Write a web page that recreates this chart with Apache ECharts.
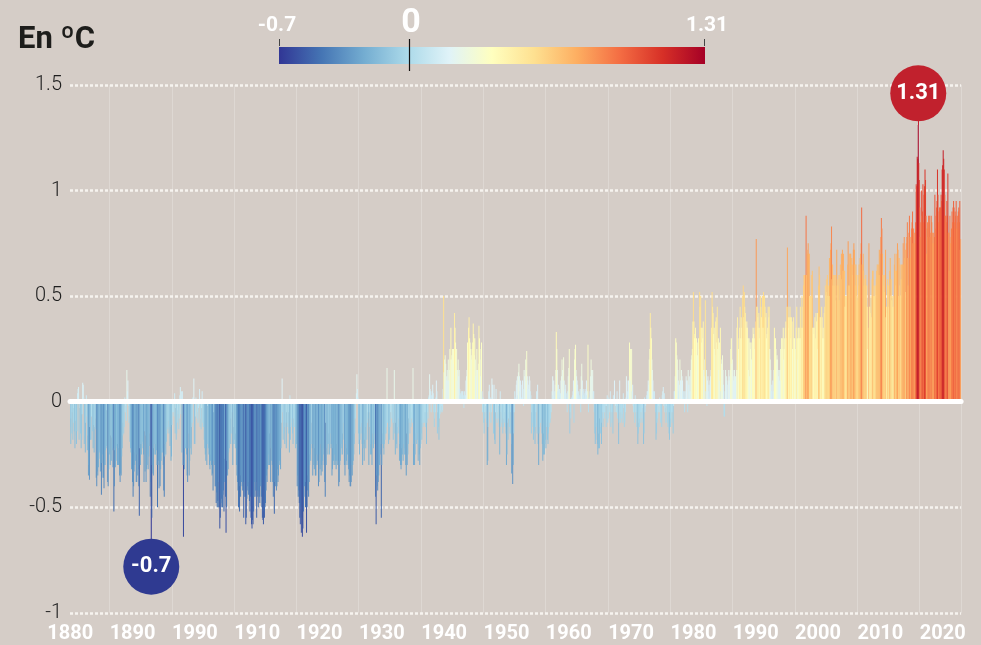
<!DOCTYPE html>
<html>
<head>
<meta charset="utf-8">
<script src="https://cdn.jsdelivr.net/npm/echarts@6/dist/echarts.min.js"></script>
<style>
html,body{margin:0;padding:0;background:#d5cdc7;}
#chart{width:981px;height:645px;}
</style>
</head>
<body>
<div id="chart"></div>
<script>
// Monthly anomalies (°C), Jan..Dec of each year, one array per decade
const d1880 = [
-0.12,-0.2,-0.08,-0.15,-0.05,-0.18,-0.1,-0.03,-0.14,-0.22,-0.09,-0.16,
-0.2,-0.14,0.04,0.06,0.07,-0.18,0.01,-0.03,-0.15,-0.22,-0.18,-0.06,
0.09,0.08,0.02,-0.2,-0.16,-0.24,-0.1,0.03,-0.07,-0.23,-0.16,-0.35,
-0.3,-0.37,-0.12,-0.18,-0.18,-0.07,-0.07,-0.14,-0.22,-0.11,-0.24,-0.12,
-0.13,-0.08,-0.36,-0.4,-0.33,-0.35,-0.31,-0.27,-0.23,-0.24,-0.33,-0.31,
-0.44,-0.29,-0.25,-0.36,-0.36,-0.41,-0.3,-0.3,-0.23,-0.22,-0.21,-0.04,
-0.38,-0.4,-0.32,-0.24,-0.25,-0.3,-0.16,-0.28,-0.17,-0.23,-0.31,-0.22,
-0.52,-0.4,-0.23,-0.31,-0.28,-0.21,-0.22,-0.3,-0.2,-0.3,-0.22,-0.35,
-0.38,-0.34,-0.35,-0.26,-0.22,-0.16,-0.1,-0.15,-0.12,0.02,-0.05,-0.02,
-0.09,0.15,0.05,0.1,-0.02,-0.1,-0.07,-0.19,-0.22,-0.24,-0.32,-0.3
];
const d1890 = [
-0.38,-0.45,-0.4,-0.33,-0.3,-0.24,-0.28,-0.38,-0.38,-0.25,-0.35,-0.32,
-0.4,-0.54,-0.22,-0.3,-0.2,-0.25,-0.2,-0.19,-0.22,-0.25,-0.38,-0.14,
-0.33,-0.16,-0.38,-0.32,-0.3,-0.25,-0.32,-0.26,-0.21,-0.15,-0.45,-0.38,
-0.7,-0.55,-0.3,-0.34,-0.35,-0.22,-0.2,-0.25,-0.25,-0.2,-0.23,-0.3,
-0.5,-0.3,-0.28,-0.41,-0.3,-0.4,-0.32,-0.28,-0.24,-0.22,-0.24,-0.3,
-0.42,-0.45,-0.26,-0.2,-0.25,-0.19,-0.15,-0.12,-0.13,-0.09,-0.15,-0.12,
-0.21,-0.12,-0.28,-0.26,-0.11,-0.05,0.0,-0.05,-0.07,0.04,-0.15,-0.03,
-0.18,-0.15,-0.1,-0.04,-0.06,-0.13,-0.08,0.03,0.07,-0.06,0.05,-0.24,
0.05,-0.3,-0.64,-0.3,-0.32,-0.22,-0.22,-0.2,-0.25,-0.35,-0.38,-0.22,
-0.15,-0.35,-0.28,-0.22,-0.2,-0.25,-0.12,-0.1,0.02,-0.01,0.11,-0.2
];
const d1900 = [
-0.2,-0.07,0.02,0.0,-0.08,-0.05,-0.1,-0.03,-0.02,0.06,-0.12,-0.08,
-0.13,-0.03,0.05,-0.1,-0.12,-0.12,-0.18,-0.22,-0.25,-0.28,-0.22,-0.3,
-0.2,-0.02,-0.22,-0.25,-0.3,-0.32,-0.28,-0.25,-0.3,-0.35,-0.34,-0.42,
-0.28,-0.05,-0.3,-0.4,-0.4,-0.48,-0.43,-0.5,-0.47,-0.5,-0.38,-0.5,
-0.6,-0.55,-0.48,-0.46,-0.5,-0.5,-0.44,-0.42,-0.52,-0.38,-0.27,-0.45,
-0.62,-0.5,-0.28,-0.35,-0.32,-0.24,-0.22,-0.18,-0.15,-0.2,-0.08,-0.15,
-0.05,-0.3,-0.2,-0.12,-0.18,-0.2,-0.22,-0.15,-0.3,-0.35,-0.38,-0.42,
-0.5,-0.48,-0.52,-0.4,-0.45,-0.35,-0.38,-0.4,-0.42,-0.38,-0.55,-0.45,
-0.38,-0.45,-0.58,-0.55,-0.46,-0.4,-0.42,-0.44,-0.38,-0.47,-0.52,-0.45,
-0.55,-0.58,-0.6,-0.56,-0.58,-0.52,-0.45,-0.38,-0.45,-0.42,-0.38,-0.55
];
const d1910 = [
-0.42,-0.45,-0.5,-0.42,-0.45,-0.48,-0.4,-0.38,-0.45,-0.5,-0.55,-0.56,
-0.58,-0.52,-0.55,-0.5,-0.48,-0.42,-0.35,-0.38,-0.32,-0.3,-0.25,-0.3,
-0.3,-0.15,-0.38,-0.22,-0.28,-0.3,-0.38,-0.45,-0.4,-0.53,-0.38,-0.4,
-0.38,-0.42,-0.4,-0.32,-0.38,-0.35,-0.3,-0.28,-0.3,-0.32,-0.22,-0.1,
0.11,-0.05,-0.18,-0.15,-0.1,-0.2,-0.12,-0.1,-0.22,-0.05,-0.1,-0.12,
-0.15,-0.05,-0.24,0.03,-0.18,-0.12,-0.08,-0.1,-0.15,-0.2,-0.08,-0.12,
-0.12,-0.1,-0.22,-0.18,-0.2,-0.4,-0.35,-0.45,-0.42,-0.48,-0.55,-0.58,
-0.5,-0.62,-0.55,-0.64,-0.6,-0.52,-0.45,-0.4,-0.38,-0.5,-0.38,-0.62,
-0.5,-0.42,-0.35,-0.45,-0.38,-0.3,-0.25,-0.28,-0.2,-0.1,-0.22,-0.35,
-0.2,-0.3,-0.32,-0.22,-0.35,-0.35,-0.25,-0.3,-0.28,-0.25,-0.4,-0.38
];
const d1920 = [
-0.25,-0.32,-0.2,-0.35,-0.3,-0.33,-0.28,-0.25,-0.22,-0.3,-0.38,-0.45,
-0.1,-0.3,-0.22,-0.2,-0.25,-0.2,-0.15,-0.25,-0.2,-0.15,-0.22,-0.2,
-0.35,-0.32,-0.22,-0.28,-0.3,-0.25,-0.3,-0.28,-0.32,-0.28,-0.2,-0.3,
-0.28,-0.4,-0.38,-0.3,-0.28,-0.25,-0.2,-0.22,-0.25,-0.15,-0.1,-0.18,
-0.3,-0.35,-0.2,-0.3,-0.28,-0.22,-0.25,-0.3,-0.32,-0.38,-0.35,-0.4,
-0.4,-0.38,-0.3,-0.35,-0.3,-0.28,-0.25,-0.2,-0.15,-0.08,0.0,0.04,
0.13,0.06,0.02,-0.15,-0.2,-0.25,-0.18,-0.12,-0.15,-0.1,-0.2,-0.3,
-0.22,-0.2,-0.28,-0.18,-0.15,-0.22,-0.12,-0.18,-0.1,-0.05,-0.08,-0.3,
-0.05,-0.12,-0.25,-0.2,-0.25,-0.3,-0.15,-0.2,-0.22,-0.18,-0.15,-0.2,
-0.45,-0.58,-0.35,-0.4,-0.42,-0.38,-0.35,-0.3,-0.3,-0.25,-0.2,-0.55
];
const d1930 = [
-0.3,-0.2,-0.15,-0.22,-0.25,-0.2,-0.18,-0.15,-0.15,-0.12,0.16,-0.1,
-0.1,-0.2,-0.15,-0.18,-0.12,-0.05,-0.02,-0.08,-0.05,-0.1,-0.18,-0.1,
0.15,-0.15,-0.25,-0.1,-0.2,-0.22,-0.15,-0.12,-0.08,-0.15,-0.28,-0.2,
-0.3,-0.32,-0.3,-0.22,-0.25,-0.28,-0.2,-0.22,-0.25,-0.25,-0.3,-0.35,
-0.15,-0.3,-0.25,-0.2,-0.08,-0.1,-0.15,-0.1,-0.12,-0.08,-0.05,-0.1,
0.16,-0.3,-0.2,-0.3,-0.25,-0.18,-0.15,-0.2,-0.18,-0.15,-0.28,-0.2,
-0.25,-0.3,-0.22,-0.2,-0.15,-0.18,-0.1,-0.12,-0.1,-0.08,-0.1,-0.05,
-0.12,-0.05,-0.2,-0.1,-0.05,-0.08,0.02,0.03,0.13,0.06,0.05,-0.05,
0.03,0.05,0.08,0.04,-0.05,-0.12,-0.08,-0.05,0.02,0.1,0.05,-0.15,
-0.05,-0.12,-0.18,-0.08,-0.06,-0.04,-0.05,-0.02,-0.05,-0.04,0.06,0.5
];
const d1940 = [
0.14,0.2,0.22,0.18,0.1,0.12,0.15,0.1,0.2,0.1,0.15,0.25,
0.2,0.35,0.2,0.22,0.25,0.2,0.25,0.18,0.42,0.35,0.28,0.15,
0.25,0.1,0.15,0.2,0.12,0.15,0.06,0.03,0.04,0.05,0.02,0.05,
0.05,0.03,-0.03,0.05,0.02,0.03,0.1,0.12,0.15,0.28,0.2,0.35,
0.4,0.3,0.28,0.25,0.22,0.2,0.25,0.28,0.37,0.32,0.22,0.3,
0.2,0.12,0.15,0.25,0.15,0.1,0.18,0.36,0.3,0.25,0.12,0.2,
0.28,0.05,-0.05,0.02,-0.1,-0.15,-0.05,-0.08,-0.02,-0.05,-0.1,-0.3,
-0.28,-0.12,0.05,0.08,-0.05,0.02,-0.1,-0.05,0.11,0.08,0.0,-0.15,
0.08,-0.18,-0.2,-0.05,0.06,-0.08,-0.1,-0.05,-0.08,-0.02,-0.12,-0.25,
0.05,-0.12,-0.05,-0.1,-0.08,-0.15,-0.12,-0.08,-0.1,-0.05,-0.12,-0.15
];
const d1950 = [
-0.3,-0.25,-0.1,-0.18,-0.08,-0.05,-0.12,-0.15,-0.05,-0.15,-0.34,-0.2,
-0.39,-0.3,-0.15,-0.05,0.05,0.0,0.02,0.08,0.1,0.12,0.03,0.14,
0.18,0.12,0.05,0.1,0.0,0.02,0.08,0.1,0.06,-0.02,0.15,0.12,
0.1,0.2,0.15,0.24,0.12,0.1,0.06,0.08,0.12,0.1,0.05,0.03,
-0.15,-0.05,-0.1,-0.12,-0.18,-0.15,-0.14,-0.2,-0.12,-0.05,0.05,-0.15,
0.08,-0.2,-0.3,-0.15,-0.12,-0.1,-0.1,-0.08,-0.15,-0.2,-0.28,-0.25,
-0.15,-0.25,-0.2,-0.18,-0.22,-0.12,-0.1,-0.18,-0.2,-0.15,-0.12,-0.1,
-0.1,-0.08,-0.05,0.0,0.05,0.12,0.03,0.1,0.05,0.02,0.08,0.15,
0.33,0.25,0.15,0.05,0.08,0.05,0.06,0.02,0.04,0.1,0.12,0.2,
0.15,0.1,0.21,0.1,0.05,0.06,0.08,0.04,0.02,-0.05,0.05,0.12
];
const d1960 = [
0.16,0.25,-0.15,-0.05,-0.08,0.02,0.0,0.03,0.05,0.1,-0.1,0.2,
0.25,0.27,0.15,0.12,0.1,0.08,0.04,0.05,0.03,0.02,0.06,-0.05,
0.12,0.18,0.1,0.05,0.03,0.06,0.02,0.04,0.05,0.06,0.1,0.03,
0.05,0.27,-0.05,0.02,0.0,0.05,0.12,0.2,0.15,0.12,0.15,0.05,
0.05,-0.05,-0.15,-0.2,-0.18,-0.12,-0.1,-0.2,-0.25,-0.22,-0.15,-0.22,
-0.08,-0.15,-0.12,-0.2,-0.1,-0.05,-0.12,-0.08,-0.05,-0.05,-0.08,-0.02,
-0.12,-0.02,0.03,-0.1,-0.08,0.02,0.0,-0.05,0.05,-0.12,-0.05,-0.1,
-0.05,-0.15,0.03,0.02,0.1,-0.05,-0.02,0.0,-0.05,0.05,-0.08,-0.02,
-0.2,-0.1,0.1,-0.05,-0.1,-0.05,-0.08,-0.06,-0.1,0.04,-0.03,-0.12,
-0.1,-0.05,0.02,0.12,0.1,0.05,0.03,0.1,0.08,0.28,0.12,0.25
];
const d1970 = [
0.1,0.25,0.05,0.08,-0.02,-0.05,-0.05,-0.1,0.03,-0.05,-0.08,-0.12,
-0.05,-0.2,-0.15,-0.1,-0.12,-0.08,-0.05,-0.1,-0.05,-0.08,-0.03,-0.1,
-0.2,-0.15,0.02,-0.05,-0.02,0.0,0.03,0.05,0.05,0.1,0.08,0.2,
0.25,0.42,0.35,0.3,0.2,0.15,0.1,0.05,0.02,0.05,0.0,-0.05,
-0.18,-0.15,-0.1,-0.08,-0.05,-0.02,-0.05,0.02,-0.05,-0.1,-0.08,-0.12,
0.03,0.05,0.07,-0.02,0.04,-0.05,-0.03,-0.1,-0.02,-0.05,-0.1,-0.12,
-0.05,-0.15,-0.18,-0.05,-0.12,-0.08,-0.05,-0.1,-0.05,-0.15,-0.02,0.05,
0.05,0.12,0.3,0.28,0.22,0.2,0.15,0.1,0.05,0.08,0.2,0.1,
0.1,0.15,0.12,0.1,0.05,0.02,0.05,-0.05,0.05,0.02,0.12,0.1,
0.1,-0.05,0.15,0.08,0.05,0.12,0.05,0.15,0.2,0.22,0.25,0.38
];
const d1980 = [
0.52,0.38,0.3,0.32,0.35,0.22,0.3,0.28,0.22,0.2,0.3,0.25,
0.52,0.45,0.5,0.35,0.28,0.35,0.3,0.38,0.15,0.12,0.2,0.48,
0.05,0.15,-0.02,0.1,0.12,0.05,0.08,0.02,0.1,0.12,0.15,0.35,
0.52,0.45,0.42,0.32,0.35,0.25,0.22,0.38,0.4,0.28,0.45,0.25,
0.3,0.15,0.28,0.1,0.35,0.05,0.18,0.2,0.22,0.15,0.08,-0.07,
-0.07,0.05,0.15,0.1,0.12,0.08,0.02,0.1,0.15,0.12,0.1,0.15,
0.25,0.3,0.18,0.2,0.15,0.1,0.12,0.15,0.1,0.12,0.1,0.15,
0.35,0.4,0.15,0.25,0.3,0.35,0.45,0.3,0.4,0.35,0.3,0.5,
0.55,0.4,0.52,0.45,0.42,0.38,0.35,0.38,0.35,0.3,0.15,0.3,
0.12,0.28,0.25,0.28,0.2,0.2,0.3,0.35,0.32,0.3,0.25,0.35
];
const d1990 = [
0.38,0.77,0.45,0.45,0.4,0.35,0.42,0.3,0.35,0.5,0.45,0.4,
0.4,0.5,0.35,0.52,0.35,0.5,0.45,0.4,0.42,0.3,0.32,0.35,
0.45,0.4,0.45,0.25,0.2,0.15,0.05,0.08,0.0,0.1,0.05,0.15,
0.35,0.3,0.3,0.25,0.2,0.22,0.2,0.15,0.12,0.15,0.1,0.15,
0.25,0.1,0.3,0.3,0.25,0.35,0.2,0.25,0.3,0.35,0.38,0.3,
0.45,0.73,0.45,0.4,0.35,0.4,0.45,0.4,0.3,0.4,0.38,0.25,
0.25,0.4,0.3,0.3,0.2,0.25,0.35,0.45,0.3,0.2,0.35,0.3,
0.3,0.35,0.45,0.3,0.35,0.5,0.35,0.45,0.55,0.6,0.6,0.6,
0.6,0.88,0.6,0.72,0.7,0.75,0.7,0.7,0.5,0.5,0.5,0.6,
0.5,0.62,0.35,0.35,0.32,0.35,0.4,0.3,0.42,0.38,0.38,0.42
];
const d2000 = [
0.25,0.55,0.64,0.6,0.4,0.4,0.35,0.45,0.4,0.3,0.35,0.3,
0.42,0.45,0.55,0.5,0.58,0.52,0.6,0.5,0.55,0.5,0.68,0.5,
0.72,0.75,0.83,0.58,0.65,0.55,0.6,0.55,0.6,0.55,0.6,0.48,
0.72,0.55,0.58,0.55,0.6,0.48,0.6,0.65,0.6,0.7,0.58,0.72,
0.62,0.7,0.62,0.62,0.45,0.5,0.45,0.5,0.55,0.65,0.76,0.55,
0.7,0.55,0.7,0.7,0.65,0.68,0.65,0.6,0.72,0.75,0.72,0.65,
0.55,0.65,0.6,0.5,0.48,0.6,0.55,0.65,0.6,0.68,0.7,0.75,
0.92,0.65,0.65,0.7,0.62,0.55,0.58,0.58,0.6,0.55,0.55,0.45,
0.25,0.35,0.75,0.45,0.45,0.42,0.5,0.4,0.58,0.62,0.62,0.5,
0.55,0.5,0.5,0.55,0.58,0.62,0.65,0.62,0.65,0.6,0.72,0.6
];
const d2010 = [
0.7,0.78,0.87,0.82,0.7,0.6,0.55,0.6,0.52,0.6,0.72,0.4,
0.45,0.42,0.58,0.55,0.45,0.55,0.62,0.68,0.5,0.58,0.48,0.5,
0.45,0.45,0.5,0.65,0.7,0.62,0.55,0.62,0.7,0.75,0.72,0.5,
0.68,0.55,0.65,0.5,0.58,0.65,0.58,0.65,0.75,0.65,0.78,0.68,
0.72,0.52,0.75,0.78,0.85,0.68,0.55,0.8,0.88,0.78,0.68,0.78,
0.82,0.85,0.9,0.75,0.82,0.8,0.75,0.8,0.85,1.03,1.02,1.16,
1.15,1.31,1.13,1.05,0.92,0.78,0.85,1.0,0.88,0.9,1.03,0.85,
0.98,1.02,1.1,1.05,0.88,0.7,0.82,0.85,0.78,0.88,0.85,0.88,
0.78,0.8,0.88,0.85,0.8,0.75,0.8,0.75,0.78,0.98,0.82,0.88,
0.92,0.95,1.1,0.98,0.85,0.9,0.92,0.92,0.92,0.98,0.95,1.1
];
const d2020 = [
1.12,1.19,1.15,1.1,0.98,0.88,0.88,0.85,0.95,0.88,1.08,0.8,
0.8,0.62,0.88,0.75,0.78,0.82,0.9,0.85,0.92,0.95,0.92,0.85,
0.9,0.88,0.95,0.82,0.85,0.88,0.9,0.92,0.85,0.95,0.72,0.77
];

const firstYear = 1880;
const lastYear = 2022;
const xTickYears = [1880,1890,1900,1910,1920,1930,1940,1950,1960,1970,1980,1990,2000,2010,2020];
const xTickTexts = ['1880','1890','1990','1910','1920','1930','1940','1950','1960','1970','1980','1990','2000','2010','2020'];
const yTicks = [-1,-0.5,0,0.5,1,1.5];
const scaleMin = -0.7, scaleMax = 1.31;
const minLabel = {month:'1893-01', text:'-0.7'};
const maxLabel = {month:'2016-02', text:'1.31'};

const values = [].concat(d1880,d1890,d1900,d1910,d1920,d1930,d1940,d1950,d1960,d1970,d1980,d1990,d2000,d2010,d2020);
const categories = [];
for (let y = firstYear; y <= lastYear; y++) {
  for (let m = 1; m <= 12; m++) categories.push(y + '-' + (m < 10 ? '0' : '') + m);
}

const palette = ['#313695','#4575b4','#74add1','#abd9e9','#e0f3f8','#ffffbf','#fee090','#fdae61','#f46d43','#d73027','#a50026'];
const FONT = 'Roboto, "Open Sans", "DejaVu Sans", sans-serif';

const chart = echarts.init(document.getElementById('chart'), null, {renderer:'canvas'});
const stops = palette.map((c, i) => ({offset: i / (palette.length - 1), color: c}));

chart.setOption({
  backgroundColor: '#d5cdc7',
  animation: false,
  grid: {left: 70, top: 84.9, width: 891.1, height: 528, containLabel: false},
  visualMap: {
    type: 'continuous', show: false, seriesIndex: 0,
    min: scaleMin, max: scaleMax,
    inRange: {color: palette}
  },
  xAxis: {
    type: 'category',
    data: categories,
    boundaryGap: true,
    axisLine: {show: false, onZero: false},
    axisTick: {show: false},
    axisLabel: {
      interval: (idx) => idx % 120 === 0,
      formatter: (v) => xTickTexts[xTickYears.indexOf(+v.slice(0, 4))],
      color: '#ffffff', fontSize: 20, fontWeight: 'bold', fontFamily: FONT, margin: 11
    },
    splitLine: {
      show: true,
      interval: (idx) => idx % 120 === 76,
      lineStyle: {color: 'rgba(255,255,255,0.22)', width: 1}
    }
  },
  yAxis: {
    type: 'value',
    min: yTicks[0], max: yTicks[yTicks.length - 1], interval: 0.5,
    axisLine: {show: false}, axisTick: {show: false},
    axisLabel: {color: '#1e1e1e', fontSize: 20, fontWeight: 300, fontFamily: FONT, margin: 8},
    splitLine: {lineStyle: {color: '#f6f3ef', width: 2.5, type: [3, 2]}}
  },
  series: [{
    type: 'bar',
    data: values,
    barCategoryGap: '0%',
    barGap: '0%',
    large: false,
    itemStyle: {borderWidth: 0},
    emphasis: {disabled: true},
    markLine: {
      silent: true,
      symbol: ['none', 'none'],
      label: {show: false},
      data: [
        {yAxis: 0, lineStyle: {color: '#ffffff', width: 5, type: 'solid', cap: 'round'}},
        [{coord: [maxLabel.month, 1.31], lineStyle: {color: '#c1212d', width: 1, type: 'solid'}},
         {coord: [maxLabel.month, 1.40]}]
      ]
    },
    markPoint: {
      silent: true,
      symbol: 'circle',
      symbolSize: 56,
      label: {show: true, color: '#ffffff', fontSize: 22, fontWeight: 'bold', fontFamily: FONT, formatter: (p) => p.value},
      data: [
        {coord: [minLabel.month, -0.781], value: minLabel.text, itemStyle: {color: '#2f3a91'}},
        {coord: [maxLabel.month, 1.46], value: maxLabel.text, itemStyle: {color: '#c1212d'}}
      ]
    }
  }],
  graphic: [
    {type: 'text', left: 18, top: 25, style: {text: 'En ºC', fill: '#1d1d1b', font: 'bold 31px ' + FONT}},
    {type: 'rect', shape: {x: 279, y: 47, width: 426, height: 17},
     style: {fill: new echarts.graphic.LinearGradient(0, 0, 1, 0, stops)}},
    {type: 'line', shape: {x1: 279.5, y1: 39, x2: 279.5, y2: 46}, style: {stroke: '#444', lineWidth: 1}},
    {type: 'line', shape: {x1: 704.5, y1: 39, x2: 704.5, y2: 46}, style: {stroke: '#444', lineWidth: 1}},
    {type: 'line', z: 10, shape: {x1: 409.5, y1: 39, x2: 409.5, y2: 71}, style: {stroke: '#111', lineWidth: 1.2}},
    {type: 'text', style: {x: 277, y: 26, text: '-0.7', fill: '#ffffff', font: 'bold 21px ' + FONT, textAlign: 'center', textVerticalAlign: 'middle'}},
    {type: 'text', style: {x: 411, y: 23, text: '0', fill: '#ffffff', font: 'bold 34px ' + FONT, textAlign: 'center', textVerticalAlign: 'middle'}},
    {type: 'text', style: {x: 707, y: 26, text: '1.31', fill: '#ffffff', font: 'bold 21px ' + FONT, textAlign: 'center', textVerticalAlign: 'middle'}}
  ]
});
</script>
</body>
</html>
